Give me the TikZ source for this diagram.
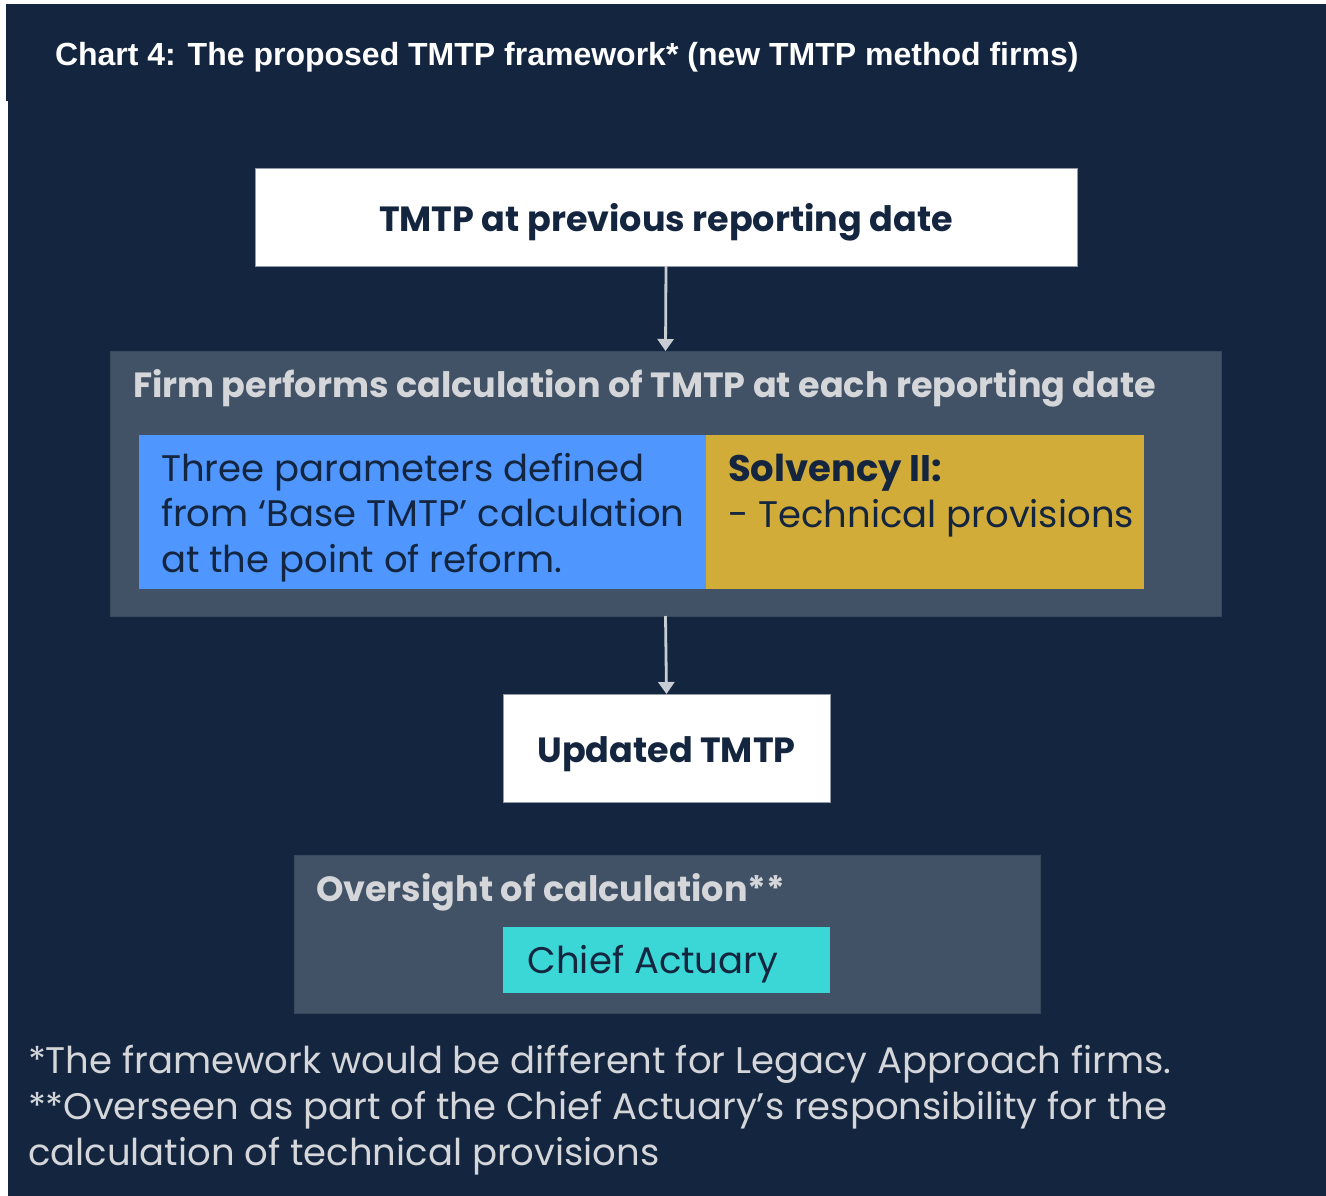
\documentclass[tikz,border=0pt]{standalone}
\usepackage{fontspec}
\setmainfont{Poppins}
\newfontfamily\arialfont{Liberation Sans}
\usetikzlibrary{arrows.meta}

\definecolor{navy}{HTML}{14253F}
\definecolor{panel}{HTML}{415266}
\definecolor{paramblue}{HTML}{4F97FF}
\definecolor{solvgold}{HTML}{D2AC38}
\definecolor{actcyan}{HTML}{3BD6D6}
\definecolor{arrowgray}{HTML}{C8CDD3}
\definecolor{softgray}{HTML}{D4D6DA}

\begin{document}
\begin{tikzpicture}[
    x=1pt, y=-1pt,
    every node/.style={inner sep=0pt, outer sep=0pt},
    box/.style={rectangle, draw=arrowgray!70!navy, line width=0.7pt},
    whitebox/.style={box, fill=white},
    panelbox/.style={box, fill=panel, draw=panel!80!navy},
    flow/.style={draw=arrowgray, line width=2.8pt, -{Triangle[length=12pt, width=16pt]}},
    boxlabel/.style={text=navy, font=\fontsize{35}{42}\selectfont\bfseries},
    paneltitle/.style={text=softgray, font=\fontsize{35}{42}\selectfont\bfseries},
    bodytext/.style={text=navy, font=\fontsize{37}{45.5}\selectfont}
  ]

  % page and title band
  \useasboundingbox (0,0) rectangle (1326,1196);
  \fill[white] (0,0) rectangle (1326,1196);
  \fill[navy] (6,4) rectangle (1326,101);
  \fill[navy] (8,100) rectangle (1326,1196);
  \node[anchor=base west, text=white, font=\arialfont\fontsize{32}{38}\selectfont\bfseries] (title) at (55,66)
    {Chart 4: The proposed TMTP framework* (new TMTP method firms)};

  % flow boxes
  \node[whitebox, minimum width=822pt, minimum height=98pt] (previous) at (666,217) {};
  \node[boxlabel, anchor=base] (previouslabel) at (666,231) {TMTP at previous reporting date};

  \node[panelbox, minimum width=1111pt, minimum height=265pt] (firm) at (665.5,483.5) {};
  \node[paneltitle, anchor=base west] (firmlabel) at (133,397) {Firm performs calculation of TMTP at each reporting date};

  \node[rectangle, fill=paramblue, minimum width=567pt, minimum height=154pt] (params) at (422.5,512) {};
  \node[rectangle, fill=solvgold, minimum width=438pt, minimum height=154pt] (solvency) at (925,512) {};
  % base anchor sits on the last line
  \node[bodytext, anchor=base west, align=left] (paramslabel) at (161,572)
    {Three parameters defined\\from ‘Base TMTP’ calculation\\at the point of reform.};
  \node[bodytext, anchor=base west, align=left] (solvencylabel) at (728,527)
    {\textbf{Solvency II:}\\- Technical provisions};

  \node[whitebox, minimum width=327pt, minimum height=108pt] (updated) at (666.5,748) {};
  \node[boxlabel, anchor=base] (updatedlabel) at (666.5,762) {Updated TMTP};

  % oversight
  \node[panelbox, minimum width=746pt, minimum height=158pt] (oversight) at (667,934) {};
  \node[paneltitle, anchor=base west] (oversightlabel) at (316,901) {Oversight of calculation**};
  \node[rectangle, fill=actcyan, minimum width=327pt, minimum height=66pt] (actuary) at (666.5,960) {};
  \node[bodytext, anchor=base] (actuarylabel) at (653,973) {Chief Actuary};

  % arrows
  \draw[flow] (previous.south) -- (firm.north);
  \draw[flow] (firm.south) -- (updated.north);

  % footnotes
  \node[anchor=base west, align=left, text=softgray, font=\fontsize{37}{46}\selectfont] (notes) at (28,1165)
    {*The framework would be different for Legacy Approach firms.\\**Overseen as part of the Chief Actuary’s responsibility for the\\calculation of technical provisions};

\end{tikzpicture}
\end{document}
